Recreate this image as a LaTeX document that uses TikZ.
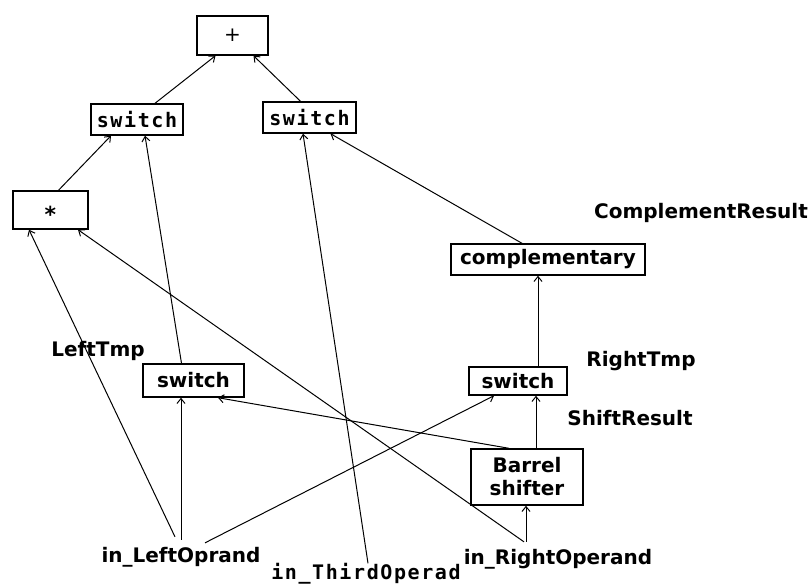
\documentclass[tikz,border=0pt]{standalone}
\usepackage{fontspec}
\usetikzlibrary{arrows.meta}
\newfontfamily\labfont{DejaVu Sans}
\newfontfamily\codefont{DejaVu Sans Mono}[LetterSpace=8]
\newcommand{\lbf}{\labfont\bfseries\fontsize{20}{23}\selectfont}
\newcommand{\cbf}{\codefont\bfseries\fontsize{20}{23}\selectfont}
\newcommand{\bigast}{\labfont\bfseries\fontsize{22}{24}\selectfont\raisebox{-12.9pt}{*}}
\begin{document}
\begin{tikzpicture}[x=1pt,y=-1pt,
  box/.style={draw, line width=1.4pt, inner sep=0pt, font=\lbf, align=center},
  mbox/.style={box, font=\cbf},
  lbl/.style={inner sep=0pt, font=\lbf},
  conn/.style={line width=1pt, -{Straight Barb[length=5pt,width=8pt]}}]
\fill[white] (0,0) rectangle (812,584);
\path[use as bounding box] (0,0) rectangle (812,584);
% boxes
\node[box, minimum width=71pt, minimum height=39pt] (plus) at (232.5,35.5) {\mdseries\fontsize{20}{22}\selectfont +};
\node[mbox, minimum width=92pt, minimum height=31pt] (sw1) at (137,119.5) {switch};
\node[mbox, minimum width=93pt, minimum height=31pt] (sw2) at (309.5,117.5) {switch};
\node[box, minimum width=75pt, minimum height=38pt, text height=0pt, text depth=0pt, align=none] (mul) at (50.5,210) {\bigast};
\node[box, minimum width=194pt, minimum height=31pt] (comp) at (548,259.5) {complementary};
\node[box, minimum width=101pt, minimum height=33pt] (swL) at (193.5,380.5) {switch};
\node[box, minimum width=98pt, minimum height=28pt] (swR) at (518,381) {switch};
\node[box, minimum width=112pt, minimum height=56pt] (barrel) at (527,477) {Barrel\\shifter};
% labels
\node[lbl] (cres) at (701,213) {ComplementResult};
\node[lbl] (ltmp) at (98,351) {LeftTmp};
\node[lbl] (rtmp) at (641,361) {RightTmp};
\node[lbl] (sres) at (630,418) {ShiftResult};
\node[lbl] (leftop) at (181,557) {in\_LeftOprand};
\node[lbl, font=\cbf] (third) at (366,574) {in\_ThirdOperad};
\node[lbl] (rightop) at (558,559) {in\_RightOperand};
% connectors
\draw[conn] ([xshift=18pt]sw1.north) -- ([xshift=-17pt]plus.south);
\draw[conn] ([xshift=-9pt]sw2.north) -- ([xshift=21pt]plus.south);
\draw[conn] ([xshift=8pt]mul.north) -- ([xshift=-26pt]sw1.south);
\draw[conn] ([xshift=-12pt]swL.north) -- ([xshift=8pt]sw1.south);
\draw[conn] ([xshift=2pt]third.north) -- ([xshift=-6.5pt]sw2.south);
\draw[conn] ([xshift=-26pt]comp.north) -- ([xshift=21pt]sw2.south);
\draw[conn] ([xshift=-6pt,yshift=10pt]leftop.north) -- ([xshift=-21.5pt]mul.south);
\draw[conn] ([xshift=-34pt,yshift=7pt]rightop.north) -- ([xshift=27.5pt]mul.south);
\draw[conn] ([yshift=7pt]leftop.north) -- ([xshift=-12.5pt]swL.south);
\draw[conn] ([xshift=24pt,yshift=4pt]leftop.north) -- ([xshift=-24pt]swR.south);
\draw[conn] ([xshift=-18pt]barrel.north) -- ([xshift=24.5pt]swL.south);
\draw[conn] ([xshift=9pt]barrel.north) -- ([xshift=18pt]swR.south);
\draw[conn] ([xshift=20pt]swR.north) -- ([xshift=-10pt]comp.south);
\draw[conn] ([xshift=-32pt,yshift=7pt]rightop.north) -- ([xshift=-1pt]barrel.south);
\end{tikzpicture}
\end{document}
